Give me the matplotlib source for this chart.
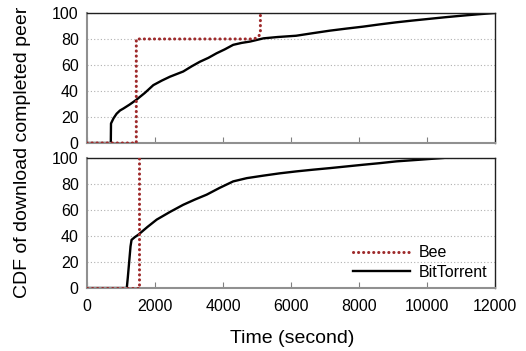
import matplotlib
matplotlib.use("Agg")
import matplotlib.pyplot as plt

plt.rcParams["font.family"] = ["Liberation Sans", "DejaVu Sans"]

# top panel
bee1_t = [0, 1330, 1450, 1450, 4900, 5000, 5060, 5100, 5100]
bee1_y = [0, 0, 0, 80, 80, 81, 82.5, 85, 100]
bt1_t = [0, 700, 706, 780, 870, 970, 1070, 1250, 1440, 1700, 1950, 2200, 2440,
         2830, 3080, 3320, 3570, 3810, 4050, 4300, 4550, 4790, 5190, 5600,
         6150, 6650, 7140, 7630, 8120, 8600, 9090, 9580, 10070, 10560, 11060,
         11500, 12000]
bt1_y = [0, 0, 15, 19, 22.5, 25, 26.5, 29.5, 33, 38.5, 44.5, 48, 51,
         55, 59, 62.5, 65.5, 69, 72, 75.5, 77, 78, 80.5, 81.5,
         82.5, 84.5, 86.4, 88, 89.5, 91.2, 92.8, 94.2, 95.5, 96.8, 98,
         99, 100]

# bottom panel
bee2_t = [0, 1350, 1520, 1520]
bee2_y = [0, 0, 0, 100]
bt2_t = [0, 1170, 1200, 1240, 1280, 1310, 1400, 1510, 1780, 2050, 2440, 2830,
         3170, 3520, 3900, 4300, 4700, 5180, 5670, 6160, 6650, 7140, 7630,
         8120, 8600, 9100, 9800, 10470]
bt2_y = [0, 0, 8, 20, 32, 37, 39, 41, 47, 52.6, 58.5, 64,
         68, 71.8, 77, 82, 84.5, 86.4, 88.2, 89.7, 91, 92.2, 93.5,
         94.8, 96, 97.4, 98.7, 100]

xticks = [0, 2000, 4000, 6000, 8000, 10000, 12000]
yticks = [0, 20, 40, 60, 80, 100]

BEE_COLOR = "#9e2a2b"

fig = plt.figure(figsize=(5.26, 3.51), dpi=100)
ax1 = fig.add_axes([0.1654, 0.5926, 0.7757, 0.3704])
ax2 = fig.add_axes([0.1654, 0.1795, 0.7757, 0.3704])

panels = [(ax1, bee1_t, bee1_y, bt1_t, bt1_y), (ax2, bee2_t, bee2_y, bt2_t, bt2_y)]
for ax, bt, by, tt, ty in panels:
    ax.plot(bt, by, color=BEE_COLOR, lw=2.2, linestyle=(0, (0.05, 1.6)),
            dash_capstyle="round", label="Bee", zorder=3)
    ax.plot(tt, ty, color="black", lw=1.7, label="BitTorrent", zorder=2)
    ax.set_xlim(0, 12000)
    ax.set_ylim(0, 100)
    ax.set_xticks(xticks)
    ax.set_yticks(yticks)
    ax.grid(axis="y", color="#b0b0b0", linestyle=(0, (1, 2)), lw=0.8)
    ax.tick_params(axis="x", direction="in", length=4, color="#808080", labelsize=11.5, pad=8)
    ax.tick_params(axis="y", length=0, labelsize=11.5, pad=6)
    for s in ["left", "bottom"]:
        ax.spines[s].set_color("#909090")
        ax.spines[s].set_linewidth(1.5)
    for s in ["top", "right"]:
        ax.spines[s].set_color("#202020")
        ax.spines[s].set_linewidth(1.0)

ax1.tick_params(axis="x", labelbottom=False)

leg = ax2.legend(loc="lower right", frameon=False, fontsize=11.5,
                 handlelength=3.6, handletextpad=0.5, borderaxespad=0.1,
                 labelspacing=0.3)

fig.text(0.042, 0.567, "CDF of download completed peer", rotation=90,
         ha="center", va="center", fontsize=14)
fig.text(0.555, 0.037, "Time (second)", ha="center", va="center", fontsize=14)

plt.savefig("out.png", dpi=100)
